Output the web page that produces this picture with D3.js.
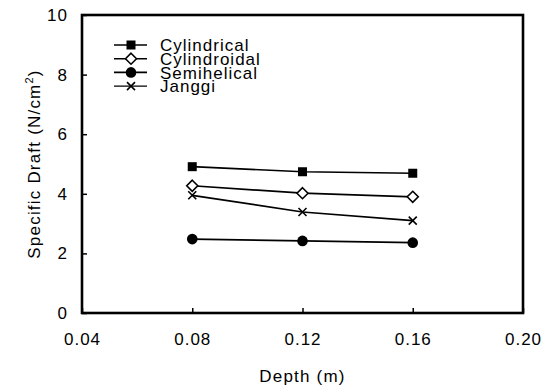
<!DOCTYPE html>
<html>
<head>
<meta charset="utf-8">
<script src="https://cdn.jsdelivr.net/npm/d3@7"></script>
<style>
  html, body { margin: 0; padding: 0; background: #fff; }
  svg text { font-family: "Liberation Sans", Arial, Helvetica, sans-serif; fill: #000; }
</style>
</head>
<body>
<div id="chart"></div>
<script>
// datos
const depths = [0.08, 0.12, 0.16];
const cylindrical = [4.91, 4.74, 4.69];
const cylindroidal = [4.27, 4.02, 3.90];
const semihelical = [2.48, 2.42, 2.36];
const janggi = [3.95, 3.39, 3.10];
const seriesNames = ["Cylindrical", "Cylindroidal", "Semihelical", "Janggi"];
const xTicks = [0.04, 0.08, 0.12, 0.16, 0.20];
const yTicks = [0, 2, 4, 6, 8, 10];

const width = 560, height = 392;
const mLeft = 82, mRight = 523, mTop = 15, mBottom = 313;

const svg = d3.select("#chart").append("svg")
    .attr("width", width)
    .attr("height", height);

const x = d3.scaleLinear().domain([0.04, 0.20]).range([mLeft, mRight]);
const y = d3.scaleLinear().domain([0, 10]).range([mBottom, mTop]);

// ejes con marcas hacia dentro
const xAxis = svg.append("g")
    .attr("transform", `translate(0,${mBottom})`)
    .call(d3.axisBottom(x).tickValues(xTicks).tickFormat(d3.format(".2f")).tickSize(-5).tickPadding(20));
const yAxis = svg.append("g")
    .attr("transform", `translate(${mLeft},0)`)
    .call(d3.axisLeft(y).tickValues(yTicks).tickFormat(d3.format("d")).tickSize(-5).tickPadding(14));

[xAxis, yAxis].forEach(g => {
    g.select(".domain").remove();
    g.selectAll(".tick line").attr("stroke", "#000").attr("stroke-width", 1.5);
    g.selectAll(".tick text")
        .style("font-size", "17px")
        .style("letter-spacing", "1px")
        .attr("fill", "#000");
});

// marco
svg.append("rect")
    .attr("x", mLeft).attr("y", mTop)
    .attr("width", mRight - mLeft).attr("height", mBottom - mTop)
    .attr("fill", "none").attr("stroke", "#000").attr("stroke-width", 2.6);

// titulos
svg.append("text")
    .attr("x", (mLeft + mRight) / 2)
    .attr("y", 382)
    .attr("text-anchor", "middle")
    .style("font-size", "17px")
    .style("letter-spacing", "1.2px")
    .text("Depth (m)");

const yLabel = svg.append("text")
    .attr("transform", `translate(40,${(mTop + mBottom) / 2}) rotate(-90)`)
    .attr("text-anchor", "middle")
    .style("font-size", "17px")
    .style("letter-spacing", "1.2px");
yLabel.append("tspan").text("Specific Draft (N/cm");
yLabel.append("tspan").attr("dy", -7).style("font-size", "11px").text("2");
yLabel.append("tspan").attr("dy", 7).text(")");

// marcadores
function drawMarker(g, i, cx, cy) {
    if (i === 0) {
        g.append("rect").attr("x", cx - 4.5).attr("y", cy - 4.5)
            .attr("width", 9).attr("height", 9).attr("fill", "#000");
    } else if (i === 1) {
        g.append("path")
            .attr("d", `M${cx},${cy - 5.5}L${cx + 5.5},${cy}L${cx},${cy + 5.5}L${cx - 5.5},${cy}Z`)
            .attr("fill", "#fff").attr("stroke", "#000").attr("stroke-width", 1.6);
    } else if (i === 2) {
        g.append("circle").attr("cx", cx).attr("cy", cy).attr("r", 5.3).attr("fill", "#000");
    } else {
        g.append("path")
            .attr("d", `M${cx - 4},${cy - 4}L${cx + 4},${cy + 4}M${cx - 4},${cy + 4}L${cx + 4},${cy - 4}`)
            .attr("stroke", "#000").attr("stroke-width", 1.6).attr("fill", "none");
    }
}

const allSeries = [cylindrical, cylindroidal, semihelical, janggi];
const line = d3.line().x(d => x(d[0])).y(d => y(d[1]));

allSeries.forEach((vals, i) => {
    const pts = depths.map((d, j) => [d, vals[j]]);
    svg.append("path")
        .datum(pts)
        .attr("d", line)
        .attr("fill", "none")
        .attr("stroke", "#000")
        .attr("stroke-width", 1.7);
    const g = svg.append("g");
    pts.forEach(p => drawMarker(g, i, x(p[0]), y(p[1])));
});

// leyenda
const legend = svg.append("g");
seriesNames.forEach((name, i) => {
    const ly = 45 + i * 13.7;
    legend.append("line")
        .attr("x1", 114).attr("x2", 147)
        .attr("y1", ly).attr("y2", ly)
        .attr("stroke", "#000").attr("stroke-width", i === 3 ? 1.1 : 1.6);
    drawMarker(legend, i, 131, ly);
    legend.append("text")
        .attr("x", 160).attr("y", ly)
        .attr("dy", "0.36em")
        .style("font-size", "17px")
        .style("letter-spacing", "1px")
        .text(name);
});
</script>
</body>
</html>
